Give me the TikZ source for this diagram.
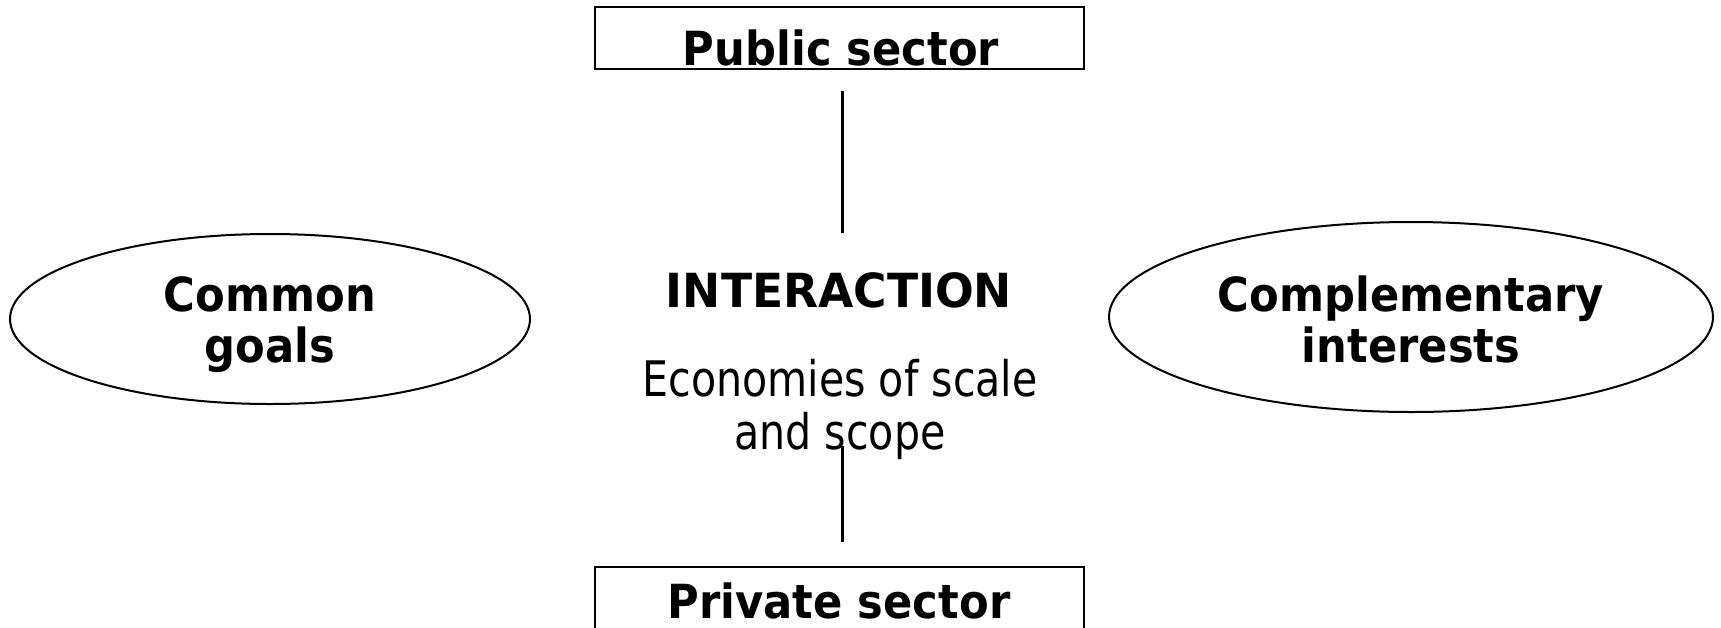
\documentclass[tikz,border=0pt]{standalone}
\usepackage{fontspec}
\usetikzlibrary{shapes.geometric}
\setmainfont{DejaVu Sans}
% narrowed faces of DejaVu Sans for the labels
\newfontfamily\labelfont{DejaVu Sans}[FakeStretch=0.92]
\newfontfamily\titlefont{DejaVu Sans}[FakeStretch=0.97]
\newfontfamily\notefont{DejaVu Sans}[FakeStretch=0.84]
% two centred lines whose baseline is the baseline of the second line
\newcommand\twolines[2]{\vbox{\halign{\hfil##\hfil\cr#1\cr#2\cr}}}
\begin{document}
\begin{tikzpicture}[x=1pt,y=-1pt,
  every node/.style={inner sep=0pt, outer sep=0pt},
  sectorbox/.style={draw, line width=2pt, minimum width=489pt, minimum height=62pt},
  blob/.style={draw, ellipse, line width=2pt},
  boldlabel/.style={anchor=base, font=\labelfont\bfseries\fontsize{47}{51}\selectfont},
  titlelabel/.style={anchor=base, font=\titlefont\bfseries\fontsize{47}{51}\selectfont},
  notelabel/.style={anchor=base, font=\notefont\fontsize{49}{53}\selectfont},
  link/.style={line width=3pt}]
\useasboundingbox (0,0) rectangle (1721,627);
\fill[white] (0,0) rectangle (1721,627);
\clip (0,0) rectangle (1721,627);

% sectors
\node[sectorbox] (pub) at (839.5,38) {};
\node[boldlabel] (pubtxt) at (841,65) {Public sector};
\node[sectorbox, minimum height=120pt] (priv) at (839,627) {};
\node[boldlabel] (privtxt) at (839,618) {Private sector};

% side ellipses
\node[blob, minimum width=520pt, minimum height=170pt] (goals) at (270,319) {};
\node[boldlabel] (goalstxt) at (270,362) {\twolines{Common}{goals}};
\node[blob, minimum width=604pt, minimum height=190pt] (interests) at (1411,317) {};
\node[boldlabel] (intereststxt) at (1411,362) {\twolines{Complementary}{interests}};

% centre
\node[titlelabel] (inter) at (839,307) {INTERACTION};
\node[notelabel] (econ) at (840,449) {\twolines{Economies of scale}{and scope}};

% connectors
\coordinate (upA) at (842,91);
\coordinate (upB) at (842,233);
\coordinate (downA) at (842,446);
\coordinate (downB) at (842,542);
\draw[link] (upA) -- (upB);
\draw[link] (downA) -- (downB);
\end{tikzpicture}
\end{document}
